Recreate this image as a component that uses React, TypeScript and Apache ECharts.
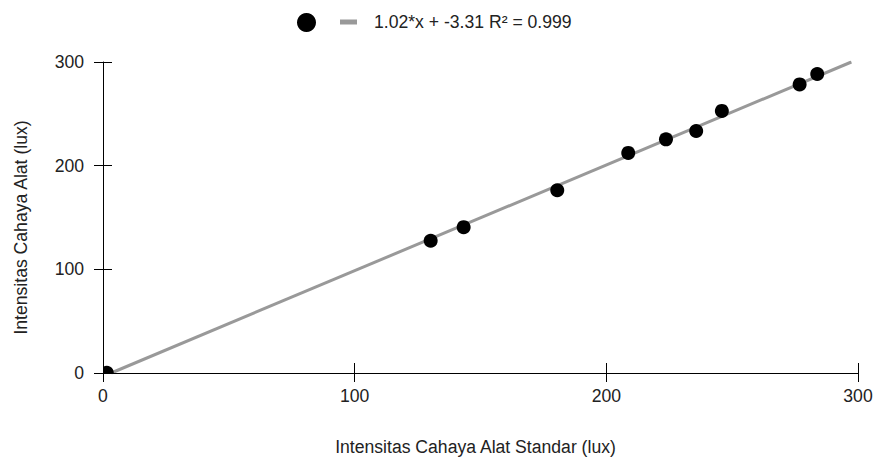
import React, { useEffect, useRef } from "react";
import * as echarts from "echarts";

const xValues = [1.5, 130.2, 143.3, 180.5, 208.7, 223.7, 235.7, 245.9, 276.8, 283.8];
const yValues = [0.3, 127.6, 140.7, 176.3, 212.3, 225.4, 233.5, 252.8, 278.4, 288.4];
const slope = 1.02;
const intercept = -3.31;
const r2 = 0.999;
const axisTicks = [0, 100, 200, 300];
const xAxisName = "Intensitas Cahaya Alat Standar (lux)";
const yAxisName = "Intensitas Cahaya Alat (lux)";
const pointsName = "Data";
const fitName = `${slope.toFixed(2)}*x + ${intercept.toFixed(2)} R² = ${r2.toFixed(3)}`;

const FONT = 'Arial, "Liberation Sans", sans-serif';
const FS = 17.6;

export default function App() {
  const ref = useRef<HTMLDivElement>(null);
  useEffect(() => {
    if (!ref.current) return;
    const chart = echarts.init(ref.current, undefined, { renderer: "svg" });
    const aMin = axisTicks[0];
    const aMax = axisTicks[axisTicks.length - 1];
    const aInt = axisTicks[1] - axisTicks[0];
    const fitData = [
      [(aMin - intercept) / slope, aMin],
      [(aMax - intercept) / slope, aMax],
    ];
    const pts = xValues.map((x, i) => [x, yValues[i]]);
    const baseAxis = {
      min: aMin,
      max: aMax,
      interval: aInt,
      splitLine: { show: false },
    };
    chart.setOption({
      animation: false,
      textStyle: { fontFamily: FONT },
      grid: { left: 103, right: 19, top: 62, bottom: 89, containLabel: false, outerBoundsMode: "none" },
      legend: [
        {
          left: 297,
          top: 13,
          padding: 0,
          itemWidth: 19,
          itemHeight: 19,
          selectedMode: false,
          formatter: () => "",
          data: [{ name: pointsName, icon: "circle", itemStyle: { color: "#000" } }],
        },
        {
          left: 340,
          top: 13,
          padding: 0,
          itemWidth: 17,
          itemHeight: 5,
          selectedMode: false,
          textStyle: { fontSize: FS, color: "#222", fontFamily: FONT, padding: [0, 0, 0, 12] },
          data: [{ name: fitName, icon: "rect", itemStyle: { color: "#999" } }],
        },
      ],
      xAxis: [
        {
          ...baseAxis,
          type: "value",
          z: 10,
          name: xAxisName,
          nameLocation: "middle",
          nameGap: 65,
          nameTextStyle: { fontSize: FS, color: "#222", fontFamily: FONT, padding: [0, 10, 0, 0] },
          axisLine: { show: true, onZero: false, lineStyle: { color: "#000", width: 1 } },
          axisTick: { show: true, inside: false, length: 9, lineStyle: { color: "#000" } },
          axisLabel: { fontSize: FS, color: "#222", margin: 14, fontFamily: FONT },
        },
        {
          ...baseAxis,
          type: "value",
          position: "bottom",
          z: 10,
          axisLine: { show: false },
          axisTick: { show: true, inside: true, length: 10, lineStyle: { color: "#000" } },
          axisLabel: { show: false },
        },
      ],
      yAxis: [
        {
          ...baseAxis,
          type: "value",
          z: 10,
          name: yAxisName,
          nameLocation: "middle",
          nameGap: 73,
          nameTextStyle: { fontSize: FS, color: "#222", fontFamily: FONT, padding: [0, 20, 0, 0] },
          axisLine: { show: true, onZero: false, lineStyle: { color: "#000", width: 1 } },
          axisTick: { show: true, inside: false, length: 9, lineStyle: { color: "#000" } },
          axisLabel: { fontSize: FS, color: "#222", margin: 19, fontFamily: FONT },
        },
        {
          ...baseAxis,
          type: "value",
          position: "left",
          z: 10,
          axisLine: { show: false },
          axisTick: { show: true, inside: true, length: 9, lineStyle: { color: "#000" } },
          axisLabel: { show: false },
        },
      ],
      series: [
        {
          name: fitName,
          type: "line",
          data: fitData,
          showSymbol: false,
          symbol: "none",
          color: "#999",
          lineStyle: { color: "#999", width: 3 },
          clip: true,
          z: 2,
        },
        {
          name: pointsName,
          type: "custom",
          clip: true,
          z: 3,
          data: pts,
          itemStyle: { color: "#000" },
          renderItem: (params: any, api: any) => {
            const c = api.coord([api.value(0), api.value(1)]);
            return {
              type: "circle",
              shape: { cx: c[0], cy: c[1], r: 7 },
              style: { fill: "#000" },
            };
          },
        },
      ],
    });
    return () => chart.dispose();
  }, []);
  return (
    <div
      ref={ref}
      style={{ position: "fixed", left: 0, top: 0, width: 877, height: 462, background: "#fff" }}
    />
  );
}
